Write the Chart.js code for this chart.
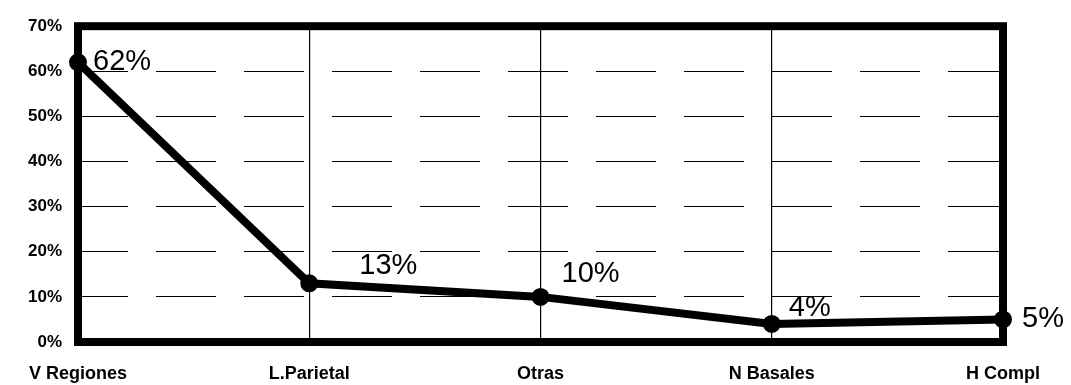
<!DOCTYPE html>
<html>
<head>
<meta charset="utf-8">
<script src="https://cdn.jsdelivr.net/npm/chart.js@4/dist/chart.umd.min.js"></script>
<style>
  html, body { margin: 0; padding: 0; background: #fff; }
  #wrap { width: 1071px; height: 385px; position: relative; }
</style>
</head>
<body>
<div id="wrap"><canvas id="c" width="1071" height="385"></canvas></div>
<script>
// Categories and percentages
const categories = ['V Regiones', 'L.Parietal', 'Otras', 'N Basales', 'H Compl'];
const percentages = [62, 13, 10, 4, 5];
const yTicks = [0, 10, 20, 30, 40, 50, 60, 70];

// Where each value label sits relative to its point (px)
const labelDx = [15, 50, 21, 17, 19];
const labelDy = [0, -17, -23, -16, 0];

const FONT = '"Liberation Sans", Arial, Helvetica, sans-serif';

// Heavy black frame around the plot area
const framePlugin = {
  id: 'frame',
  afterDatasetsDraw(chart) {
    const { ctx, chartArea: a } = chart;
    ctx.save();
    ctx.strokeStyle = '#000';
    ctx.lineWidth = 8;
    ctx.strokeRect(a.left, a.top, a.right - a.left, a.bottom - a.top);
    ctx.restore();
  }
};

// Percentage labels next to each point
const valueLabels = {
  id: 'valueLabels',
  afterDraw(chart) {
    const { ctx } = chart;
    const meta = chart.getDatasetMeta(0);
    ctx.save();
    ctx.fillStyle = '#000';
    ctx.font = '29px ' + FONT;
    ctx.textAlign = 'left';
    ctx.textBaseline = 'middle';
    meta.data.forEach((pt, i) => {
      ctx.fillText(percentages[i] + '%', pt.x + labelDx[i], pt.y + labelDy[i]);
    });
    ctx.restore();
  }
};

new Chart(document.getElementById('c'), {
  type: 'line',
  data: {
    labels: categories,
    datasets: [{
      data: percentages,
      borderColor: '#000',
      backgroundColor: '#000',
      borderWidth: 8,
      pointRadius: 5,
      pointStyle: 'circle',
      pointBackgroundColor: '#000',
      pointBorderColor: '#000',
      tension: 0,
      fill: false
    }]
  },
  options: {
    responsive: false,
    animation: false,
    devicePixelRatio: 1,
    layout: { padding: { top: 22, right: 68, left: 0, bottom: 0 } },
    plugins: { legend: { display: false }, tooltip: { enabled: false } },
    scales: {
      x: {
        type: 'category',
        offset: false,
        afterFit(scale) { scale.height = 43; },
        grid: {
          display: true,
          drawTicks: false,
          lineWidth: 1.2,
          color: (c) => (c.index === 0 || c.index === categories.length - 1) ? 'rgba(0,0,0,0)' : '#000'
        },
        border: { display: false },
        ticks: {
          padding: 21,
          color: '#000',
          maxRotation: 0,
          autoSkip: false,
          font: { family: FONT, size: 18, weight: 'bold' }
        }
      },
      y: {
        min: 0,
        max: 70,
        afterFit(scale) { scale.width = 78; },
        afterBuildTicks(scale) { scale.ticks = yTicks.map(v => ({ value: v })); },
        grid: {
          display: true,
          drawTicks: false,
          lineWidth: 1,
          color: (c) => (c.tick && (c.tick.value === 0 || c.tick.value === 70)) ? 'rgba(0,0,0,0)' : '#000'
        },
        border: { display: false, dash: [60, 28], dashOffset: 10 },
        ticks: {
          padding: 16,
          color: '#000',
          callback: (v) => v + '%',
          font: { family: FONT, size: 17, weight: 'bold' }
        }
      }
    }
  },
  plugins: [framePlugin, valueLabels]
});
</script>
</body>
</html>
